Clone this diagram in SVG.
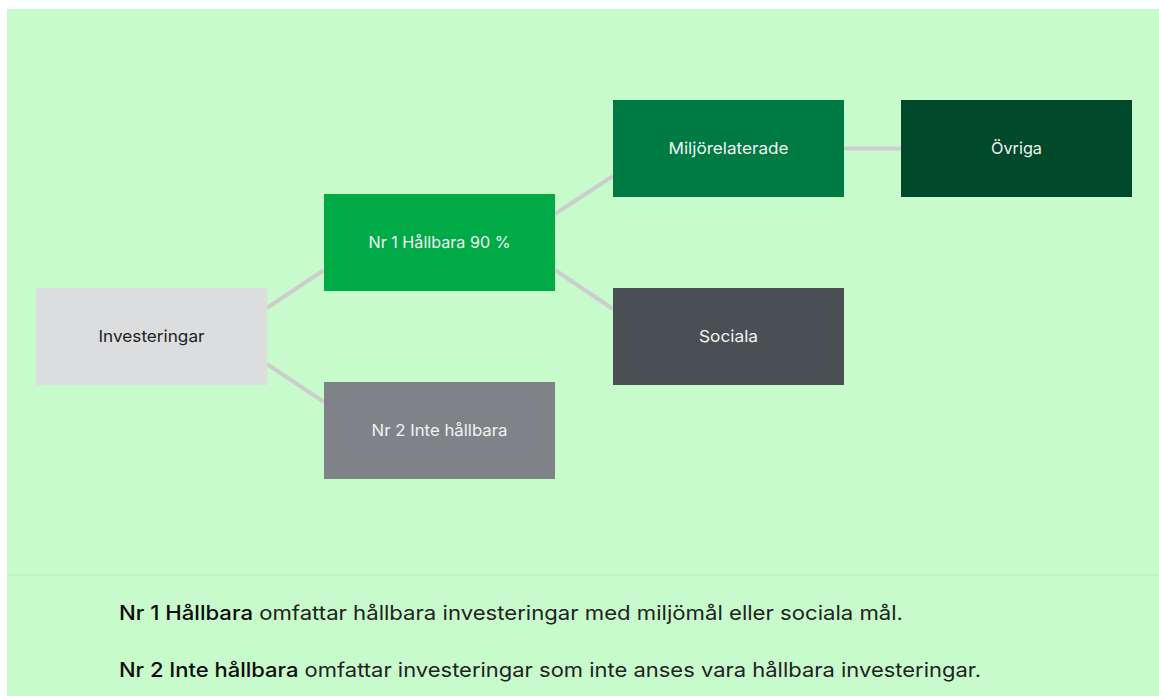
<svg xmlns="http://www.w3.org/2000/svg" width="1159" height="696" viewBox="0 0 1159 696">
<style>
.lbl{font-family:Inter,"Liberation Sans",Arial,sans-serif;font-size:16.5px;text-anchor:middle;dominant-baseline:central;fill:#f2f2f2}
.dark{fill:#222}
.con{stroke:#cdcdcd;stroke-width:4;fill:none}
.note{font-family:Inter,"Liberation Sans",Arial,sans-serif;font-size:20px;fill:#222}
.note .b{font-weight:500;fill:#0d0d0d}
</style>
<rect x="7" y="9" width="1152" height="687" fill="#c8fbcb"/>
<line x1="7" y1="575" x2="1159" y2="575" stroke="#adf0ba" stroke-width="1"/>
<g id="connectors">
<line class="con" x1="267" y1="308" x2="324" y2="270"/>
<line class="con" x1="267" y1="364" x2="324" y2="402"/>
<line class="con" x1="555" y1="214" x2="613" y2="176"/>
<line class="con" x1="555" y1="270" x2="613" y2="309"/>
<line class="con" x1="844" y1="148.5" x2="901" y2="148.5"/>
</g>
<g id="investeringar">
<rect x="36" y="288" width="231" height="97" fill="#dcdddf"/>
<text class="lbl dark" x="151.5" y="336" textLength="106" lengthAdjust="spacingAndGlyphs">Investeringar</text>
</g>
<g id="nr1">
<rect x="324" y="194" width="231" height="97" fill="#00ab47"/>
<text class="lbl" x="439.5" y="242" textLength="142" lengthAdjust="spacingAndGlyphs">Nr 1 Hållbara 90 %</text>
</g>
<g id="nr2">
<rect x="324" y="382" width="231" height="97" fill="#7f8387"/>
<text class="lbl" x="439.5" y="430" textLength="136" lengthAdjust="spacingAndGlyphs">Nr 2 Inte hållbara</text>
</g>
<g id="miljo">
<rect x="613" y="100" width="231" height="97" fill="#007a43"/>
<text class="lbl" x="728.5" y="148" textLength="120" lengthAdjust="spacingAndGlyphs">Miljörelaterade</text>
</g>
<g id="sociala">
<rect x="613" y="288" width="231" height="97" fill="#4a4f53"/>
<text class="lbl" x="728.5" y="336" textLength="59" lengthAdjust="spacingAndGlyphs">Sociala</text>
</g>
<g id="ovriga">
<rect x="901" y="100" width="231" height="97" fill="#00492a"/>
<text class="lbl" x="1016.5" y="148" textLength="51" lengthAdjust="spacingAndGlyphs">Övriga</text>
</g>
<g id="notes">
<text class="note" x="119" y="620" textLength="784" lengthAdjust="spacingAndGlyphs"><tspan class="b">Nr 1 Hållbara</tspan> omfattar hållbara investeringar med miljömål eller sociala mål.</text>
<text class="note" x="119" y="677" textLength="862" lengthAdjust="spacingAndGlyphs"><tspan class="b">Nr 2 Inte hållbara</tspan> omfattar investeringar som inte anses vara hållbara investeringar.</text>
</g>
</svg>
